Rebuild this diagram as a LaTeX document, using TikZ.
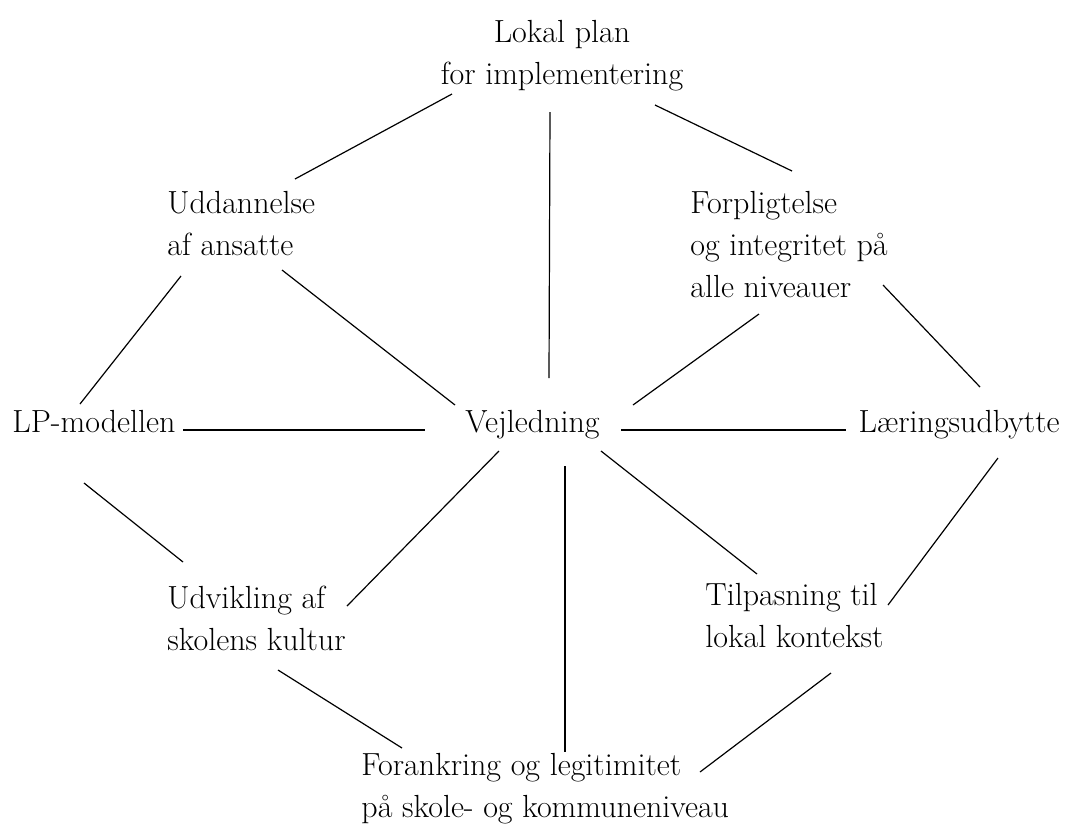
\documentclass[tikz,border=0pt]{standalone}
\usetikzlibrary{calc}
\begin{document}
\begin{tikzpicture}[x=0.5pt,y=-0.5pt]

\tikzset{topic/.style = {inner sep=0pt, align=left, font=\fontsize{16}{21}\selectfont}}
\tikzset{link/.style = {line width=0.6pt}}

\useasboundingbox (0,0) rectangle (1078,827);

% topics
\node[topic, anchor=north, align=center] (lokal) at (562,20) {Lokal plan\\for implementering};
\node[topic, anchor=north west] (udd) at (167,191) {Uddannelse\\af ansatte};
\node[topic, anchor=north west] (forp) at (690,191) {Forpligtelse\\og integritet på\\alle niveauer};
\node[topic, anchor=base west] (lp) at (12,432) {LP-modellen};
\node[topic, anchor=base west] (vej) at (465,432) {Vejledning};
\node[topic, anchor=base east] (laer) at (1060,432) {Læringsudbytte};
\node[topic, anchor=north west] (udv) at (167,586) {Udvikling af\\skolens kultur};
\node[topic, anchor=north west] (tilp) at (705,583) {Tilpasning til\\lokal kontekst};
\node[topic, anchor=north west] (fora) at (361,753) {Forankring og legitimitet\\på skole- og kommuneniveau};

% links
\draw[link] ($(udd.north west)+(128,-12)$) -- ($(lokal.north)+(-110,74)$);
\draw[link] ($(lokal.north)+(-12,92)$) -- ($(vej.base west)+(84,-54)$);
\draw[link] ($(lokal.north)+(93,85)$) -- ($(forp.north west)+(102,-20)$);
\draw[link] ($(udd.north west)+(14,85)$) -- ($(lp.base west)+(68,-28)$);
\draw[link] ($(udd.north west)+(115,79)$) -- ($(vej.base west)+(-10,-27)$);
\draw[link] ($(forp.north west)+(69,123)$) -- ($(vej.base west)+(168,-27)$);
\draw[link] ($(forp.north west)+(193,94)$) -- ($(laer.base east)+(-80,-45)$);
\draw[link] ($(lp.base west)+(171,-2)$) -- ($(vej.base west)+(-40,-2)$);
\draw[link] ($(vej.base west)+(156,-2)$) -- ($(laer.base east)+(-214,-2)$);
\draw[link] ($(lp.base west)+(72,51)$) -- ($(udv.north west)+(16,-24)$);
\draw[link] ($(vej.base west)+(34,19)$) -- ($(udv.north west)+(180,20)$);
\draw[link] ($(vej.base west)+(100,34)$) -- ($(fora.north west)+(204,-1)$);
\draw[link] ($(vej.base west)+(136,19)$) -- ($(tilp.north west)+(52,-9)$);
\draw[link] ($(laer.base east)+(-62,26)$) -- ($(tilp.north west)+(183,22)$);
\draw[link] ($(udv.north west)+(111,84)$) -- ($(fora.north west)+(41,-5)$);
\draw[link] ($(tilp.north west)+(126,90)$) -- ($(fora.north west)+(339,19)$);

\end{tikzpicture}
\end{document}
